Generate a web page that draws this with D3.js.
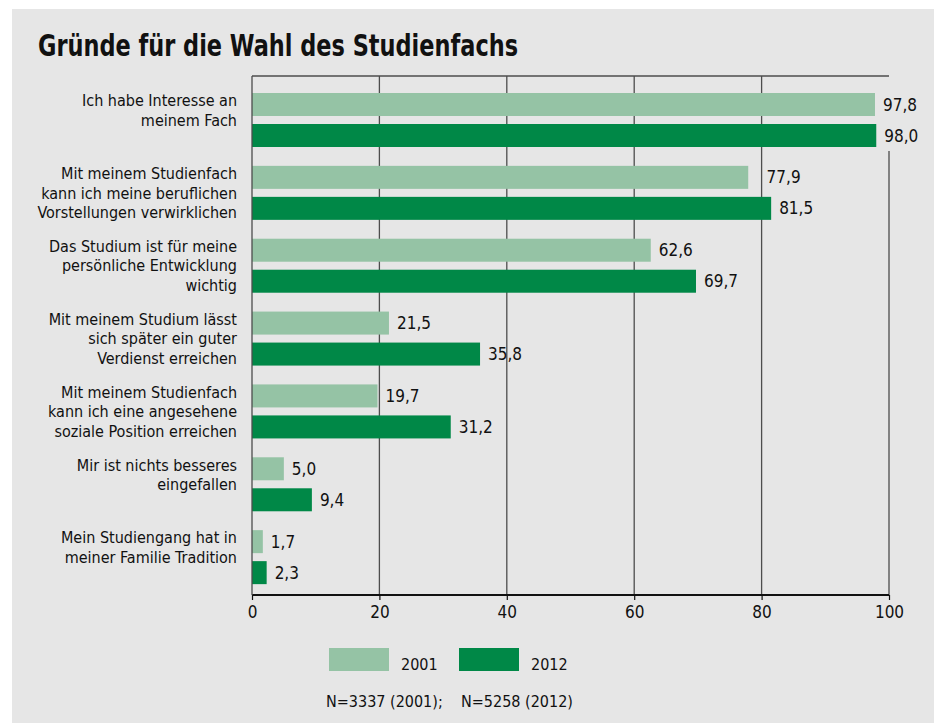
<!DOCTYPE html>
<html>
<head>
<meta charset="utf-8">
<script src="https://cdn.jsdelivr.net/npm/d3@7"></script>
<style>
  html, body { margin: 0; padding: 0; background: #fff; }
  svg { display: block; font-family: "Liberation Sans Narrow", "DejaVu Sans Condensed", sans-serif; }
</style>
</head>
<body>
<div id="grafico"></div>
<script>
const categories = [
    ['Ich habe Interesse an', 'meinem Fach'],
    ['Mit meinem Studienfach', 'kann ich meine beruflichen', 'Vorstellungen verwirklichen'],
    ['Das Studium ist für meine', 'persönliche Entwicklung', 'wichtig'],
    ['Mit meinem Studium lässt', 'sich später ein guter', 'Verdienst erreichen'],
    ['Mit meinem Studienfach', 'kann ich eine angesehene', 'soziale Position erreichen'],
    ['Mir ist nichts besseres', 'eingefallen'],
    ['Mein Studiengang hat in', 'meiner Familie Tradition']
];
const years = ['2001', '2012'];
const values2001 = [97.8, 77.9, 62.6, 21.5, 19.7, 5.0, 1.7];
const values2012 = [98.0, 81.5, 69.7, 35.8, 31.2, 9.4, 2.3];
const xTicks = [0, 20, 40, 60, 80, 100];
const titleText = 'Gründe für die Wahl des Studienfachs';
const noteText = 'N=3337 (2001);    N=5258 (2012)';

const width = 934;
const height = 723;
const bg = '#e6e6e6';
const colors = { '2001': '#95c3a5', '2012': '#008847' };
const fmt = v => v.toFixed(1).replace('.', ',');

const svg = d3.select('#grafico')
    .append('svg')
    .attr('width', width)
    .attr('height', height);

// grauer Hintergrund
svg.append('rect')
    .attr('x', 12).attr('y', 9)
    .attr('width', width - 12).attr('height', height - 9)
    .attr('fill', bg);

svg.append('text')
    .attr('x', 38).attr('y', 56)
    .attr('font-size', 30).attr('font-weight', 'bold')
    .attr('textLength', 480).attr('lengthAdjust', 'spacingAndGlyphs')
    .attr('fill', '#111')
    .text(titleText);

const plotTop = 76;
const plotBottom = 595;

const xScale = d3.scaleLinear().domain([0, 100]).range([252, 889]);

const yScale = d3.scaleBand()
    .domain(d3.range(categories.length))
    .range([81, 591]);

const yInner = d3.scaleBand()
    .domain(years)
    .range([12, 66])
    .paddingInner(0.258);

const rows = [];
categories.forEach((c, i) => {
    rows.push({ cat: i, year: '2001', value: values2001[i] });
    rows.push({ cat: i, year: '2012', value: values2012[i] });
});

// Gitterlinien
const gridG = svg.append('g').selectAll('line')
    .data(xTicks.slice(1))
    .enter()
    .append('line')
    .attr('x1', d => xScale(d)).attr('x2', d => xScale(d))
    .attr('y1', plotTop).attr('y2', plotBottom)
    .attr('stroke', '#4d4d4d').attr('stroke-width', 1.3);

// obere Linie
svg.append('line')
    .attr('x1', xScale(0)).attr('x2', xScale(100))
    .attr('y1', plotTop).attr('y2', plotTop)
    .attr('stroke', '#4d4d4d').attr('stroke-width', 1.3);

// Balken
svg.append('g').selectAll('rect')
    .data(rows)
    .enter()
    .append('rect')
    .attr('x', xScale(0))
    .attr('y', d => yScale(d.cat) + yInner(d.year))
    .attr('width', d => xScale(d.value) - xScale(0))
    .attr('height', yInner.bandwidth())
    .attr('fill', d => colors[d.year]);

// Werte
const labels = svg.append('g').selectAll('text')
    .data(rows)
    .enter()
    .append('text')
    .attr('y', d => yScale(d.cat) + yInner(d.year) + yInner.bandwidth() / 2)
    .attr('dy', '0.36em')
    .attr('font-size', 17)
    .attr('fill', '#111')
    .text(d => fmt(d.value));

let lastCutBottom = plotTop;
labels.each(function (d) {
    const w = this.getComputedTextLength();
    let x = xScale(d.value) + 8;
    xTicks.slice(1, -1).forEach(t => {
        const gx = xScale(t);
        if (gx > x - 3 && gx < x + 8) x = gx + 5;
    });
    d3.select(this).attr('x', x);
    const right = xScale(100);
    if (right > x - 3 && right < x + w) {
        lastCutBottom = Math.max(lastCutBottom, yScale(d.cat) + yInner(d.year) + yInner.bandwidth() + 4);
    }
});
gridG.filter(d => d === 100).attr('y1', lastCutBottom);

// Kategorien
const catG = svg.append('g').selectAll('text')
    .data(categories)
    .enter()
    .append('text')
    .attr('text-anchor', 'end')
    .attr('font-size', 16)
    .attr('fill', '#111');
catG.each(function (lines, i) {
    const mid = yScale(i) + yInner('2001') + (yInner('2012') + yInner.bandwidth() - yInner('2001')) / 2;
    lines.forEach((l, j) => {
        d3.select(this).append('tspan')
            .attr('x', 237)
            .attr('y', mid - 19.5 + j * 19.5)
            .attr('dy', '0.36em')
            .text(l);
    });
});

// x-Achse
const xAxis = d3.axisBottom(xScale)
    .tickValues(xTicks)
    .tickSize(5)
    .tickPadding(6)
    .tickFormat(d3.format('d'));

const axisG = svg.append('g')
    .attr('transform', `translate(0, ${plotBottom})`)
    .call(xAxis);
axisG.select('.domain')
    .attr('d', `M${xScale(0)},0H${xScale(100)}`)
    .attr('stroke', '#111').attr('stroke-width', 1.8);
axisG.selectAll('.tick line').attr('stroke', '#111').attr('stroke-width', 1.2);
axisG.selectAll('.tick text')
    .attr('font-size', 17)
    .attr('font-family', '"Liberation Sans Narrow", "DejaVu Sans Condensed", sans-serif')
    .attr('fill', '#111');

// y-Achse
svg.append('line')
    .attr('x1', xScale(0)).attr('x2', xScale(0))
    .attr('y1', plotTop).attr('y2', plotBottom)
    .attr('stroke', '#4d4d4d').attr('stroke-width', 1.3);

// Legende
const legend = svg.append('g').attr('id', 'legend');
const legendX = d3.scaleOrdinal().domain(years).range([329, 459]);
legend.selectAll('rect')
    .data(years)
    .enter()
    .append('rect')
    .attr('x', d => legendX(d)).attr('y', 648)
    .attr('width', 60).attr('height', 23)
    .attr('fill', d => colors[d]);
legend.selectAll('text')
    .data(years)
    .enter()
    .append('text')
    .attr('x', d => legendX(d) + 72).attr('y', 670)
    .attr('font-size', 16).attr('fill', '#111')
    .text(d => d);

svg.append('text')
    .attr('x', 326).attr('y', 707)
    .attr('font-size', 16).attr('fill', '#111')
    .style('white-space', 'pre')
    .text(noteText);
</script>
</body>
</html>
